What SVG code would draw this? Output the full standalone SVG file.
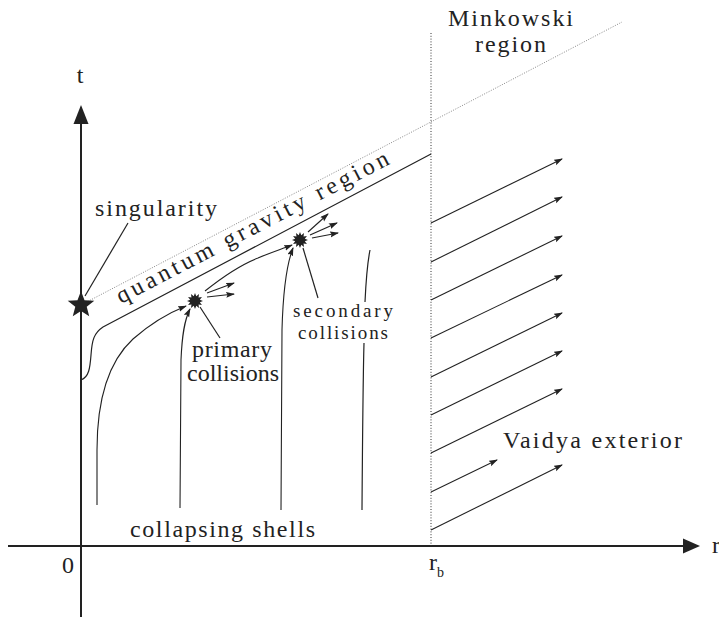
<svg xmlns="http://www.w3.org/2000/svg" width="719" height="617" viewBox="0 0 719 617">
<style>
.ln{fill:none;stroke:#222;stroke-width:1.2}
.ax{fill:none;stroke:#222;stroke-width:2}
.arr{fill:none;stroke:#222;stroke-width:1.1;marker-end:url(#ah)}
text{font-family:'Liberation Serif','Times New Roman',Times,'DejaVu Serif',serif;font-size:24px;fill:#222}
.sm{font-size:19px}
</style>
<defs>
<marker id="ah" markerWidth="9" markerHeight="7" refX="8" refY="3" orient="auto" markerUnits="userSpaceOnUse">
<path d="M0,0 L9,3 L0,6 L1.5,3 z" fill="#222"/>
</marker>
<polygon id="burst" fill="#222" points="8,0 4.83,1.29 6.93,4 3.54,3.54 4,6.93 1.29,4.83 0,8 -1.29,4.83 -4,6.93 -3.54,3.54 -6.93,4 -4.83,1.29 -8,0 -4.83,-1.29 -6.93,-4 -3.54,-3.54 -4,-6.93 -1.29,-4.83 0,-8 1.29,-4.83 4,-6.93 3.54,-3.54 6.93,-4 4.83,-1.29"/>
</defs>
<rect width="719" height="617" fill="#fff"/>

<g id="axes">
<line class="ax" x1="81" y1="617" x2="81" y2="120"/>
<polygon points="81,105 73.5,124 88.5,124" fill="#222"/>
<line class="ax" x1="8" y1="546" x2="686" y2="546"/>
<polygon points="700,546 683,538.5 683,553.5" fill="#222"/>
<text x="80" y="83" text-anchor="middle">t</text>
<text x="712" y="553">r</text>
<text x="68" y="573" text-anchor="middle">0</text>
<text x="429" y="570">r<tspan font-size="14" dy="7">b</tspan></text>
</g>

<g id="boundaries">
<line x1="81" y1="305" x2="622" y2="22" stroke="#888" stroke-width="1" stroke-dasharray="1 1.5"/>
<line x1="431" y1="33" x2="431" y2="546" stroke="#333" stroke-width="1" stroke-dasharray="1 1.8"/>
<path class="ln" d="M81,380 C89,377 90,368 91,355 C92,340 94,333 103,327 L431,154"/>
</g>

<g id="singularity">
<polygon fill="#222" points="81,291 84.53,300.15 94.31,300.67 86.71,306.85 89.23,316.33 81,311 72.77,316.33 75.29,306.85 67.69,300.67 77.47,300.15"/>
<line class="ln" x1="128" y1="223" x2="85" y2="296"/>
<text x="95" y="216" textLength="122">singularity</text>
</g>

<g id="qg-region">
<text x="121" y="304" textLength="304" transform="rotate(-27.5 121 304)">quantum gravity region</text>
</g>

<g id="minkowski">
<text x="448" y="26" textLength="125">Minkowski</text>
<text x="475" y="52" textLength="71">region</text>
</g>

<g id="shells">
<path class="arr" d="M97,505 L97,450 C97,400 108,362 133,339 C150,324 166,314 186,306"/>
<path class="arr" d="M180,508 L181,360 C182,336 184,321 190,309"/>
<path class="arr" d="M281,510 L282,330 C283,292 286,266 293,248"/>
<path class="ln" d="M362,510 C362.5,440 363,380 364,343"/>
<path class="ln" d="M365,302 C366,280 367,265 370,250"/>
<text x="130" y="537" textLength="185">collapsing shells</text>
</g>

<g id="primary-collision">
<use href="#burst" x="195" y="301"/>
<path class="arr" d="M205,291 C225,275 240,265 258,258 C272,252 282,249 292,245"/>
<line class="arr" x1="207" y1="293" x2="234" y2="283"/>
<line class="arr" x1="207" y1="297" x2="234" y2="294"/>
<line class="ln" x1="220" y1="338" x2="200" y2="307"/>
<text x="192" y="357" textLength="80">primary</text>
<text x="187" y="381" textLength="92">collisions</text>
</g>

<g id="secondary-collision">
<use href="#burst" x="300" y="240"/>
<line class="arr" x1="308" y1="232" x2="328" y2="214"/>
<line class="arr" x1="310" y1="235" x2="337" y2="223"/>
<line class="arr" x1="312" y1="238" x2="338" y2="233"/>
<line class="ln" x1="318" y1="298" x2="303" y2="248"/>
<text class="sm" x="293" y="317" textLength="100">secondary</text>
<text class="sm" x="298" y="339" textLength="90">collisions</text>
</g>

<g id="vaidya-exterior">
<line class="arr" x1="431" y1="223" x2="562" y2="159"/>
<line class="arr" x1="431" y1="262" x2="562" y2="197"/>
<line class="arr" x1="431" y1="300" x2="562" y2="236"/>
<line class="arr" x1="431" y1="338" x2="562" y2="275"/>
<line class="arr" x1="431" y1="377" x2="562" y2="313"/>
<line class="arr" x1="431" y1="415" x2="562" y2="351"/>
<line class="arr" x1="431" y1="453" x2="562" y2="389"/>
<line class="arr" x1="431" y1="492" x2="497" y2="460"/>
<line class="arr" x1="431" y1="530" x2="562" y2="465"/>
<text x="503" y="448" textLength="179">Vaidya exterior</text>
</g>
</svg>
